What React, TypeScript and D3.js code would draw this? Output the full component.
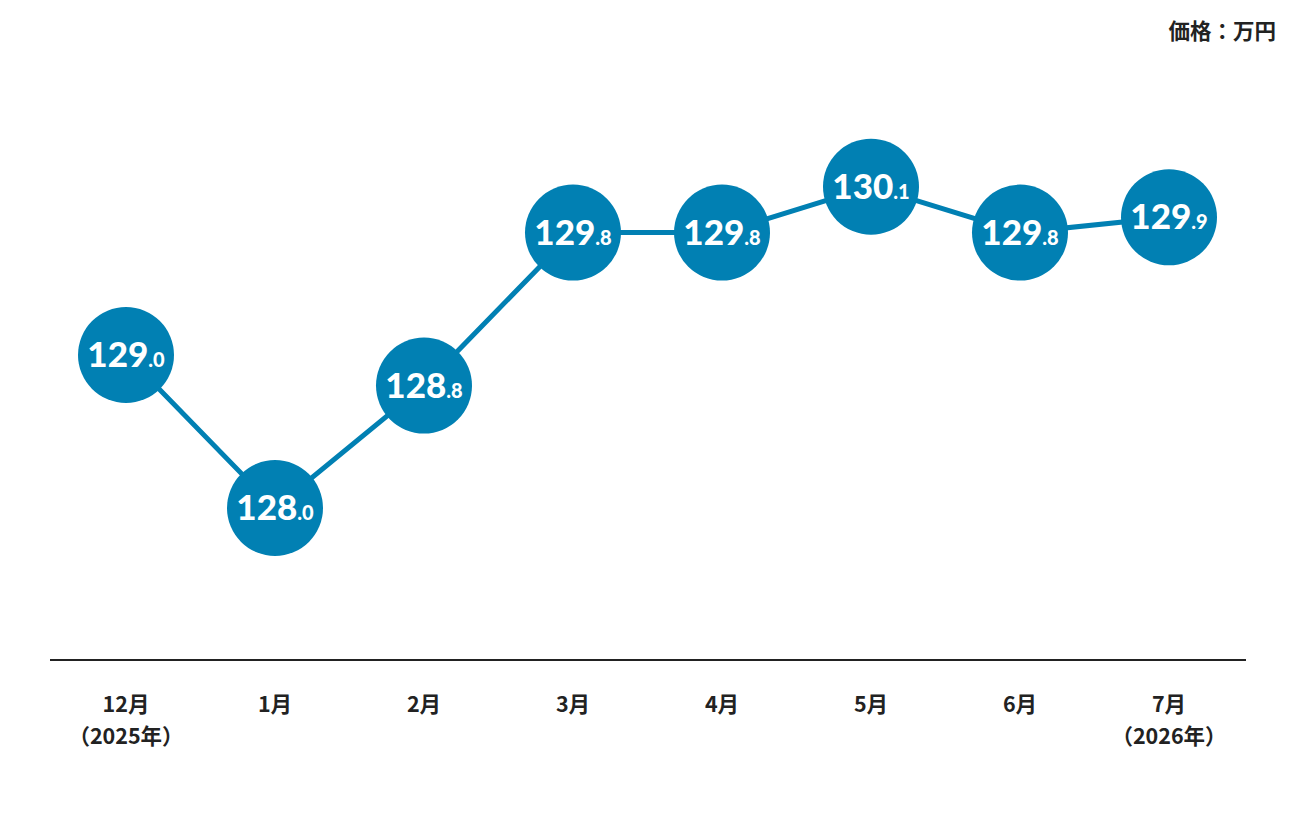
import React from "react";
import * as d3 from "d3";

// Chart data
const months = ["12月", "1月", "2月", "3月", "4月", "5月", "6月", "7月"];
const years = ["（2025年）", "", "", "", "", "", "", "（2026年）"];
const prices = [129.0, 128.0, 128.8, 129.8, 129.8, 130.1, 129.8, 129.9];
const unitLabel = "価格：万円";

const width = 1296;
const height = 816;
const axisY = 660;
const radius = 48;
const blue = "#0180b3";
const jpFont = "'Noto Sans CJK JP', 'Noto Sans', sans-serif";
const numFont = "Lato, 'Open Sans', sans-serif";

const App: React.FC = () => {
  const x = d3
    .scaleBand<string>()
    .domain(months)
    .range([51.5, 1243.5]);

  const y = d3.scaleLinear().domain([128, 130]).range([508, 202]);

  const cx = (m: string) => (x(m) || 0) + x.bandwidth() / 2;

  const line = d3
    .line<number>()
    .x((_, i) => cx(months[i]))
    .y((d) => y(d));

  return (
    <svg
      width={width}
      height={height}
      style={{ display: "block", position: "absolute", left: 0, top: 0 }}
    >
      <rect width={width} height={height} fill="#fff" />

      {/* unit label */}
      <text
        x={1276}
        y={39}
        textAnchor="end"
        fontFamily={jpFont}
        fontWeight={700}
        fontSize={21.5}
        fill="#222"
      >
        {unitLabel}
      </text>

      {/* baseline */}
      <line x1={50} x2={1246} y1={axisY} y2={axisY} stroke="#222" strokeWidth={2} />

      {/* x labels */}
      {months.map((m, i) => (
        <g key={m} fontFamily={jpFont} fontWeight={700} fontSize={21.5} fill="#222" textAnchor="middle">
          <text x={cx(m)} y={712}>{m}</text>
          {years[i] && <text x={cx(m)} y={744}>{years[i]}</text>}
        </g>
      ))}

      {/* line */}
      <path d={line(prices) || ""} fill="none" stroke={blue} strokeWidth={5} />

      {/* bubbles */}
      {prices.map((p, i) => {
        const [intPart, decPart] = p.toFixed(1).split(".");
        return (
          <g key={i} transform={`translate(${cx(months[i])},${y(p)})`}>
            <circle r={radius} fill={blue} />
            <text
              y={12}
              textAnchor="middle"
              fill="#fff"
              fontFamily={numFont}
              fontWeight={900}
            >
              <tspan fontSize={35}>{intPart}</tspan>
              <tspan fontSize={20}>.{decPart}</tspan>
            </text>
          </g>
        );
      })}
    </svg>
  );
};

export default App;
